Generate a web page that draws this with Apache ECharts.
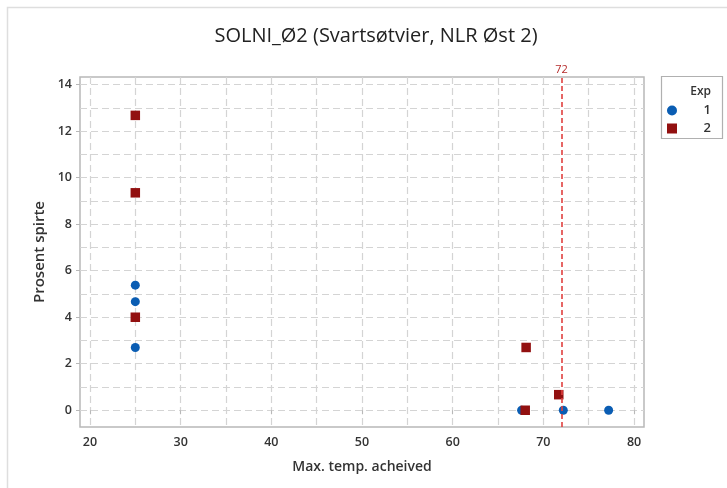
<!DOCTYPE html>
<html>
<head>
<meta charset="utf-8">
<script src="https://cdn.jsdelivr.net/npm/echarts@6/dist/echarts.min.js"></script>
<style>html,body{margin:0;padding:0;background:#fff}#c{width:727px;height:488px}</style>
</head>
<body>
<div id="c"></div>
<script>
const titleText = 'SOLNI_Ø2 (Svartsøtvier, NLR Øst 2)';
const xName = 'Max. temp. acheived';
const yName = 'Prosent spirte';
const seriesNames = ['1', '2'];
const exp1X = [25, 25, 25, 67.6, 72.2, 77.2];
const exp1Y = [5.38, 4.67, 2.7, 0, 0, 0];
const exp2X = [25, 25, 25, 68.1, 68.0, 71.7];
const exp2Y = [12.68, 9.35, 4.0, 2.7, 0, 0.67];
const xTicks = [20, 30, 40, 50, 60, 70, 80];
const yTicks = [0, 2, 4, 6, 8, 10, 12, 14];
const xGrid = [20, 25, 30, 35, 40, 45, 50, 55, 60, 65, 70, 75, 80];
const yGrid = [0, 1, 2, 3, 4, 5, 6, 7, 8, 9, 10, 11, 12, 13, 14];
const refLine = 72;
const xRange = [18.9, 81.1];
const yRange = [-0.72, 14.33];

const FONT = '"Open Sans", "Noto Sans", sans-serif';
const pair = (xs, ys) => xs.map((x, i) => [x, ys[i]]);

const chart = echarts.init(document.getElementById('c'), null, {renderer: 'canvas'});
chart.setOption({
  animation: false,
  backgroundColor: '#fff',
  title: {
    text: titleText, left: 371, top: 21, textAlign: 'center',
    textStyle: {fontFamily: FONT, fontSize: 20, fontWeight: 'normal', color: '#222'}
  },
  grid: {left: 80, right: 83, top: 77, bottom: 61, show: true, borderColor: '#b8b8b8', borderWidth: 1.5, backgroundColor: 'transparent'},
  xAxis: [{
    type: 'value', min: xRange[0], max: xRange[1],
    name: xName, nameLocation: 'middle', nameGap: 33,
    nameTextStyle: {fontFamily: FONT, fontSize: 14, fontWeight: 600, color: '#333'},
    axisLine: {show: false},
    axisTick: {show: true, length: 4, customValues: xTicks, lineStyle: {color: '#b8b8b8', width: 1}},
    axisLabel: {customValues: xTicks, margin: 9, fontFamily: FONT, fontSize: 12.5, fontWeight: 600, color: '#333'},
    splitLine: {show: false}
  }, {
    type: 'value', min: xRange[0], max: xRange[1], position: 'bottom',
    axisLine: {show: false}, axisLabel: {show: false},
    axisTick: {show: false, customValues: xGrid},
    splitLine: {show: true, lineStyle: {color: '#d4d4d4', type: [7, 4], width: 1.2}}
  }],
  yAxis: [{
    type: 'value', min: yRange[0], max: yRange[1],
    name: yName, nameLocation: 'middle', nameGap: 26,
    nameTextStyle: {fontFamily: FONT, fontSize: 15, fontWeight: 600, color: '#333'},
    axisLine: {show: false},
    axisTick: {show: true, length: 4, customValues: yTicks, lineStyle: {color: '#b8b8b8', width: 1}},
    axisLabel: {customValues: yTicks, margin: 8, fontFamily: FONT, fontSize: 12.5, fontWeight: 600, color: '#333'},
    splitLine: {show: false}
  }, {
    type: 'value', min: yRange[0], max: yRange[1], position: 'left',
    axisLine: {show: false}, axisLabel: {show: false},
    axisTick: {show: false, customValues: yGrid},
    splitLine: {show: true, lineStyle: {color: '#d4d4d4', type: [7, 4], width: 1.2}}
  }],
  legend: {
    orient: 'vertical', left: 667, top: 104, padding: 0, itemWidth: 10, itemHeight: 10, itemGap: 5,
    data: [{name: seriesNames[0], icon: 'circle'}, {name: seriesNames[1], icon: 'rect'}],
    formatter: '{a|{name}}',
    textStyle: {fontFamily: FONT, fontSize: 13, fontWeight: 600, color: '#333', lineHeight: 13,
      rich: {a: {width: 29, lineHeight: 13, align: 'right', fontFamily: FONT, fontSize: 13, fontWeight: 600, color: '#333'}}}
  },
  graphic: [
    {type: 'rect', shape: {x: 7.5, y: 7.5, width: 740, height: 500}, style: {fill: 'none', stroke: '#dedede', lineWidth: 1.5}, silent: true},
    {type: 'rect', shape: {x: 661.5, y: 76.5, width: 61, height: 62}, style: {fill: 'none', stroke: '#b0b0b0', lineWidth: 1.2}, silent: true},
    {type: 'text', x: 711, y: 86, style: {text: 'Exp', align: 'right', fontFamily: FONT, fontSize: 12, fontWeight: 600, fill: '#333'}, silent: true}
  ],
  series: [{
    name: seriesNames[0], type: 'scatter', symbol: 'circle', symbolSize: 9,
    itemStyle: {color: '#0a5db3', opacity: 1},
    data: pair(exp1X, exp1Y), z: 3
  }, {
    name: seriesNames[1], type: 'scatter', symbol: 'rect', symbolSize: 9.5,
    itemStyle: {color: '#921010', opacity: 1},
    data: pair(exp2X, exp2Y), z: 4,
    markLine: {
      silent: true, symbol: 'none',
      lineStyle: {color: '#e0403f', type: [5, 3], width: 1.6},
      label: {show: true, position: 'end', formatter: '{c}', distance: 2, fontFamily: FONT, fontSize: 11, color: '#b52a2a'},
      data: [{xAxis: refLine}]
    }
  }]
});
</script>
</body>
</html>
